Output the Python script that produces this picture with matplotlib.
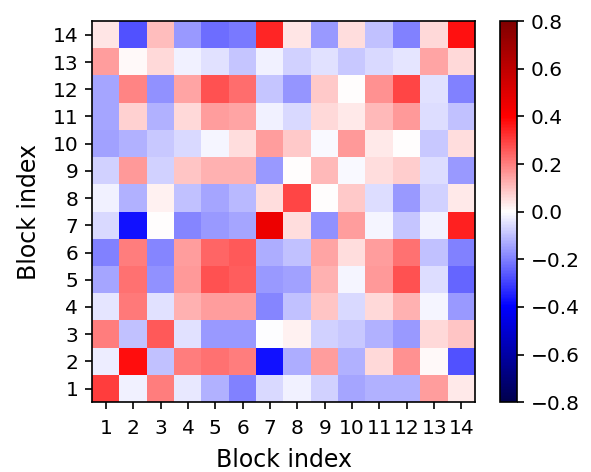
import numpy as np
import matplotlib
matplotlib.use("Agg")
import matplotlib.pyplot as plt

blocks = list(range(1, 15))

# rows listed from block 1 (bottom) to block 14 (top); columns block 1..14
row1 = [0.30, -0.02, 0.20, -0.035, -0.12, -0.20, -0.06, -0.02, -0.07, -0.14, -0.12, -0.12, 0.15, 0.035]
row2 = [-0.03, 0.38, -0.10, 0.20, 0.22, 0.20, -0.37, -0.13, 0.15, -0.12, 0.06, 0.17, 0.01, -0.27]
row3 = [0.20, -0.10, 0.26, -0.05, -0.16, -0.16, -0.005, 0.02, -0.07, -0.085, -0.12, -0.16, 0.06, 0.09]
row4 = [-0.04, 0.21, -0.05, 0.12, 0.15, 0.15, -0.19, -0.10, 0.09, -0.06, 0.06, 0.12, -0.015, -0.16]
row5 = [-0.14, 0.22, -0.17, 0.16, 0.27, 0.25, -0.16, -0.145, 0.12, -0.015, 0.16, 0.27, -0.055, -0.24]
row6 = [-0.20, 0.20, -0.19, 0.15, 0.24, 0.26, -0.13, -0.10, 0.14, 0.05, 0.15, 0.22, -0.10, -0.20]
row7 = [-0.06, -0.37, 0.0, -0.19, -0.16, -0.14, 0.45, 0.05, -0.17, 0.15, -0.015, -0.09, -0.02, 0.35]
row8 = [-0.02, -0.12, 0.02, -0.10, -0.14, -0.11, 0.055, 0.29, 0.0, 0.085, -0.055, -0.16, -0.07, 0.035]
row9 = [-0.07, 0.16, -0.07, 0.09, 0.12, 0.12, -0.16, 0.0, 0.11, -0.01, 0.055, 0.08, -0.055, -0.16]
row10 = [-0.15, -0.12, -0.085, -0.06, -0.015, 0.05, 0.15, 0.085, -0.01, 0.16, 0.035, 0.0, -0.085, 0.05]
row11 = [-0.14, 0.07, -0.12, 0.06, 0.15, 0.14, -0.02, -0.06, 0.06, 0.035, 0.11, 0.16, -0.055, -0.10]
row12 = [-0.14, 0.19, -0.17, 0.14, 0.27, 0.23, -0.09, -0.165, 0.085, 0.0, 0.17, 0.29, -0.05, -0.20]
row13 = [0.15, 0.01, 0.06, -0.02, -0.05, -0.09, -0.02, -0.07, -0.05, -0.085, -0.06, -0.04, 0.14, 0.06]
row14 = [0.04, -0.27, 0.10, -0.16, -0.23, -0.21, 0.34, 0.04, -0.16, 0.05, -0.10, -0.20, 0.06, 0.37]

data = np.array([row1, row2, row3, row4, row5, row6, row7, row8, row9,
                 row10, row11, row12, row13, row14])

plt.rcParams['axes.linewidth'] = 1.2

fig = plt.figure(figsize=(5.91, 4.72), dpi=100)
ax = fig.add_axes([0.156, 0.148, 0.648, 0.807])
im = ax.imshow(data, cmap='seismic', vmin=-0.8, vmax=0.8, origin='lower',
               extent=[0.5, 14.5, 0.5, 14.5], aspect='auto', interpolation='nearest')
ax.set_xticks(blocks)
ax.set_yticks(blocks)
ax.tick_params(labelsize=14.5, length=5, width=1.2, pad=5)
ax.tick_params(axis='x', pad=7)
ax.set_xlabel('Block index', fontsize=17, labelpad=7)
ax.set_ylabel('Block index', fontsize=17, labelpad=8)

cax = fig.add_axes([0.846, 0.148, 0.029, 0.807])
cb = fig.colorbar(im, cax=cax)
cb.set_ticks(np.arange(-0.8, 0.81, 0.2))
cb.ax.tick_params(labelsize=14.5, length=5, width=1.2, pad=5)
cb.outline.set_linewidth(1.2)

fig.savefig('out.png', dpi=100)
